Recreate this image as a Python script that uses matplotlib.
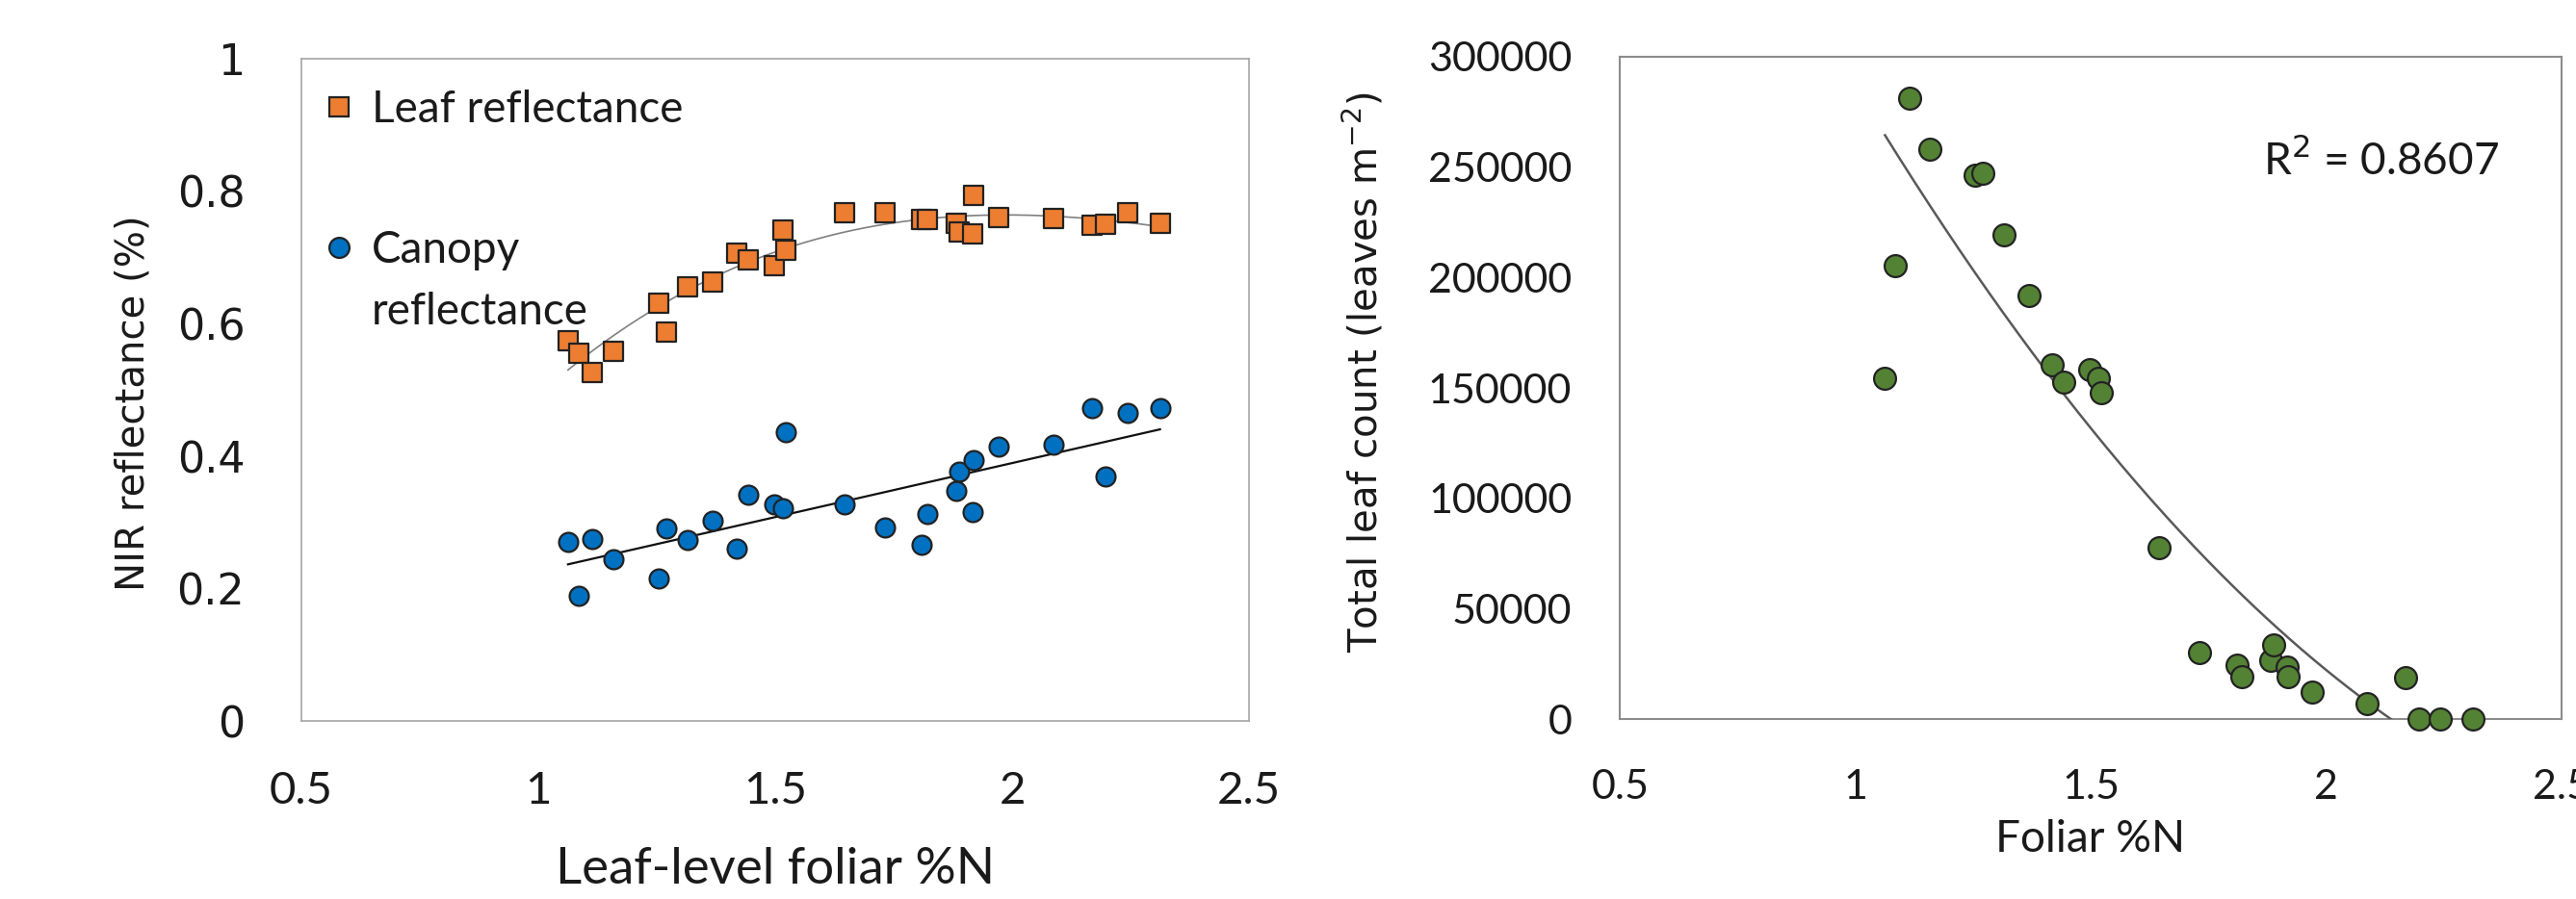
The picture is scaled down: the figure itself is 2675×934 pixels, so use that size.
import matplotlib
matplotlib.use('Agg')
import matplotlib.pyplot as plt
import numpy as np
from matplotlib.lines import Line2D

plt.rcParams['font.family'] = 'Lato'

# ── Date ──
foliar_n = [1.063, 1.085, 1.115, 1.158, 1.254, 1.271, 1.316, 1.368, 1.418,
            1.443, 1.498, 1.516, 1.523, 1.646, 1.731, 1.810, 1.821, 1.882,
            1.889, 1.917, 1.919, 1.971, 2.088, 2.169, 2.197, 2.243, 2.312]

leaf_refl = [0.574, 0.555, 0.526, 0.559, 0.631, 0.588, 0.656, 0.663, 0.706,
             0.697, 0.688, 0.741, 0.711, 0.768, 0.768, 0.757, 0.757, 0.751,
             0.739, 0.736, 0.793, 0.760, 0.759, 0.748, 0.750, 0.768, 0.752]

canopy_refl = [0.271, 0.190, 0.275, 0.245, 0.215, 0.291, 0.273, 0.303, 0.260,
               0.342, 0.327, 0.321, 0.436, 0.327, 0.292, 0.266, 0.313, 0.347,
               0.377, 0.316, 0.394, 0.415, 0.418, 0.472, 0.369, 0.465, 0.472]

leaf_count = [154500, 205500, 281300, 257900, 246500, 247300, 219500, 191900,
              160500, 152500, 158400, 154300, 147800, 77700, 30400, 24700,
              19500, 27000, 33800, 23900, 19500, 12200, 7000, 19000, 0, 0, 0]

x_ticks = [0.5, 1, 1.5, 2, 2.5]
x_ticklabels = ['0.5', '1', '1.5', '2', '2.5']
refl_ticks = [0, 0.2, 0.4, 0.6, 0.8, 1]
refl_ticklabels = ['0', '0.2', '0.4', '0.6', '0.8', '1']
count_ticks = [0, 50000, 100000, 150000, 200000, 250000, 300000]
r2_text = 'R$^2$ = 0.8607'

ORANGE = '#ED7D31'
BLUE = '#0070C0'
GREEN = '#548235'
EDGE = '#222222'
TXT = '#1a1a1a'

x = np.array(foliar_n)
x_fit = np.linspace(x.min(), x.max(), 200)

fig = plt.figure(figsize=(26.75, 9.34), dpi=100)
ax1 = fig.add_axes([0.1169, 0.1977, 0.368, 0.737])
ax2 = fig.add_axes([0.6289, 0.1997, 0.3654, 0.7373])

# ── Panoul stâng: reflectanță NIR ──
p_leaf = np.poly1d(np.polyfit(x, leaf_refl, 3))
p_can = np.poly1d(np.polyfit(x, canopy_refl, 1))
ax1.plot(x_fit, p_leaf(x_fit), color='#808080', lw=1.2, zorder=3)
ax1.plot(x_fit, p_can(x_fit), color='#111111', lw=1.6, zorder=3)
ax1.scatter(x, leaf_refl, marker='s', s=190, color=ORANGE, edgecolor=EDGE,
            linewidth=1.6, zorder=5)
ax1.scatter(x, canopy_refl, marker='o', s=205, color=BLUE, edgecolor=EDGE,
            linewidth=1.6, zorder=5)

ax1.set_xlim(0.5, 2.5)
ax1.set_ylim(0, 1)
ax1.set_xticks(x_ticks, x_ticklabels)
ax1.set_yticks(refl_ticks, refl_ticklabels)
ax1.tick_params(length=0, colors=TXT)
ax1.tick_params(axis='y', pad=42, labelsize=32, labelfontfamily='DejaVu Sans')
ax1.tick_params(axis='x', pad=37, labelsize=34)
for sp in ax1.spines.values():
    sp.set_color('#A6A6A6')
    sp.set_linewidth(1.2)

ax1.set_ylabel('NIR reflectance (%)', fontsize=29, family='DejaVu Sans', color=TXT)
ax1.yaxis.set_label_coords(-0.157, 0.48)
ax1.set_xlabel('Leaf-level foliar %N', fontsize=38, color=TXT)
ax1.xaxis.set_label_coords(0.5, -0.19)

handles = [Line2D([], [], ls='none', marker='s', ms=15, mfc=ORANGE, mec=EDGE, mew=1.6),
           Line2D([], [], ls='none', marker='o', ms=15, mfc=BLUE, mec=EDGE, mew=1.6)]
leg = ax1.legend(handles, ['Leaf reflectance', 'Canopy'], loc='upper left',
                 bbox_to_anchor=(-0.005, 1.0), frameon=False, fontsize=33,
                 handlelength=0.55, handletextpad=0.45, labelspacing=2.26,
                 borderaxespad=0.3, labelcolor=TXT)
ax1.annotate('reflectance', xy=(0, 0), xycoords=leg.get_texts()[1],
             xytext=(0, -16), textcoords='offset points', ha='left', va='top',
             fontsize=33, color=TXT, zorder=6)

# ── Panoul drept: număr total de frunze ──
p_cnt = np.poly1d(np.polyfit(x, leaf_count, 2))
ax2.plot(x_fit, p_cnt(x_fit), color='#595959', lw=1.8, zorder=3)
ax2.scatter(x, leaf_count, marker='o', s=270, color=GREEN, edgecolor=EDGE,
            linewidth=1.6, zorder=5, clip_on=False)

ax2.set_xlim(0.5, 2.5)
ax2.set_ylim(0, 300000)
ax2.set_xticks(x_ticks, x_ticklabels)
ax2.set_yticks(count_ticks, [str(v) for v in count_ticks])
ax2.tick_params(length=0, labelsize=31, colors=TXT)
ax2.tick_params(axis='y', pad=36)
ax2.tick_params(axis='x', pad=37)
for sp in ax2.spines.values():
    sp.set_color('#8C8C8C')
    sp.set_linewidth(1.5)

ax2.set_ylabel('Total leaf count (leaves m$^{-2}$)', fontsize=29,
               family='DejaVu Sans', color=TXT)
ax2.yaxis.set_label_coords(-0.248, 0.524)
ax2.set_xlabel('Foliar %N', fontsize=33, color=TXT)
ax2.xaxis.set_label_coords(0.5, -0.15)

ax2.text(0.683, 0.845, r2_text, transform=ax2.transAxes, fontsize=33,
         ha='left', va='center', color=TXT)

fig.savefig('out.png', dpi=100)
